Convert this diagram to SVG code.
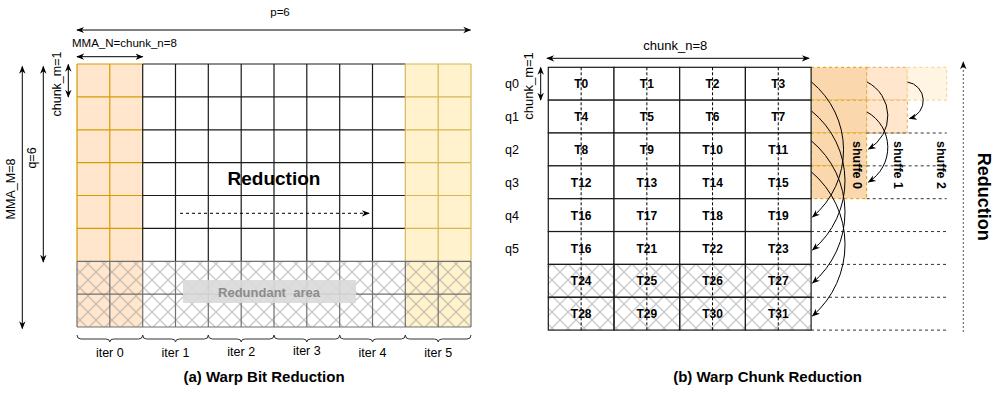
<svg xmlns="http://www.w3.org/2000/svg" width="996" height="394" viewBox="0 0 996 394">
<defs>
<style>
text{font-family:"Liberation Sans",Arial,sans-serif;fill:#000}
.lbl{font-size:12.5px}
.sm{font-size:11.5px}
.mid{text-anchor:middle}
.t{font-size:12px;font-weight:bold;text-anchor:middle}
.sh{font-size:12.5px;font-weight:bold;text-anchor:middle}
.title{font-size:15px;font-weight:bold;text-anchor:middle}
.grid{fill:none;stroke:#1a1a1a;stroke-width:1.2}
.og{fill:none;stroke:#d79b00;stroke-width:1.2}
.yg{fill:none;stroke:#d6b656;stroke-width:1.2}
.hg{fill:none;stroke:#707070;stroke-width:1.2}
.cell{fill:#fff;stroke:#1a1a1a;stroke-width:1.2}
.hcell{fill:url(#hatch);stroke:#1a1a1a;stroke-width:1.2}
.arr{fill:none;stroke:#000;stroke-width:1;marker-end:url(#ah)}
.dbl{fill:none;stroke:#000;stroke-width:1;marker-start:url(#ah);marker-end:url(#ah)}
.dash{fill:none;stroke:#000;stroke-width:1;stroke-dasharray:3 3}
.brace{fill:none;stroke:#333;stroke-width:1}
.s0{fill:#fad7ac;stroke:#d79b00;stroke-width:1;stroke-dasharray:3 3}
.s1{fill:#ffe6cc;stroke:#e3a94f;stroke-width:1;stroke-dasharray:3 3}
.s2{fill:#fff5e2;stroke:#f2cf8f;stroke-width:1;stroke-dasharray:3 3}
</style>
<marker id="ah" viewBox="0 0 10 10" refX="9" refY="5" markerWidth="8" markerHeight="8" markerUnits="userSpaceOnUse" orient="auto-start-reverse"><path d="M0,1 L10,5 L0,9 L3,5 z" fill="#000"/></marker>
<pattern id="hatch" width="16" height="16" patternUnits="userSpaceOnUse"><path d="M0,0 L16,16 M16,0 L0,16" stroke="#9a9a9a" stroke-opacity="0.55" stroke-width="1.3" fill="none"/></pattern>
</defs>
<rect width="996" height="394" fill="#fff"/>

<!-- ===== Panel (a) ===== -->
<g id="a-iter0-block">
<rect x="77" y="64" width="65.7" height="263" fill="#ffe6cc"/>
<path class="og" d="M77,64V261.3M109.8,64V261.3M77,64H142.7M77,96.9H142.7M77,129.8H142.7M77,162.6H142.7M77,195.5H142.7M77,228.4H142.7"/>
</g>
<g id="a-iter5-block">
<rect x="405.3" y="64" width="65.7" height="263" fill="#fff2cc"/>
</g>
<g id="a-middle-grid">
<path class="grid" d="M142.7,64H405.3M142.7,96.9H405.3M142.7,129.8H405.3M142.7,162.6H405.3M142.7,195.5H405.3M142.7,228.4H405.3M142.7,64V261.3M175.5,64V261.3M208.3,64V261.3M241.2,64V261.3M274,64V261.3M306.8,64V261.3M339.7,64V261.3M372.5,64V261.3"/>
</g>
<g id="a-iter5-grid">
<path class="yg" d="M405.3,64V261.3M438.2,64V261.3M471,64V261.3M405.3,64H471M405.3,96.9H471M405.3,129.8H471M405.3,162.6H471M405.3,195.5H471M405.3,228.4H471"/>
</g>
<g id="a-redundant-rows">
<rect x="77" y="261.3" width="394" height="65.7" fill="url(#hatch)"/>
<path class="hg" d="M77,261.3H471M77,294.1H471M77,327H471M77,261.3V327M109.8,261.3V327M142.7,261.3V327M175.5,261.3V327M208.3,261.3V327M241.2,261.3V327M274,261.3V327M306.8,261.3V327M339.7,261.3V327M372.5,261.3V327M405.3,261.3V327M438.2,261.3V327M471,261.3V327"/>
</g>
<g id="a-redundant-label">
<rect x="183" y="280" width="173" height="23" fill="#d9d9d9" fill-opacity="0.9"/>
<text x="269" y="296.5" class="mid" style="font-size:13px;font-weight:bold;fill:#8c8c8c;white-space:pre" xml:space="preserve">Redundant  area</text>
</g>
<g id="a-reduction-label">
<text x="274" y="185" class="mid" style="font-size:19px;font-weight:bold">Reduction</text>
</g>

<g id="a-connectors">
<path class="dbl" d="M77,30H470.5"/>
<path class="dbl" d="M77,56.7H142.7"/>
<path class="dbl" d="M22.3,66.5V328.5"/>
<path class="dbl" d="M43.3,66.5V262"/>
<path class="dbl" d="M68.3,64.5V97"/>
<path class="dash" style="marker-end:url(#ah)" d="M180,213.3H369"/>
</g>
<g id="a-dim-labels">
<text x="280" y="16" class="sm mid">p=6</text>
<text x="72" y="47" class="sm">MMA_N=chunk_n=8</text>
<text transform="translate(14.5,189) rotate(-90)" class="lbl mid">MMA_M=8</text>
<text transform="translate(36,158) rotate(-90)" class="lbl mid">q=6</text>
<text transform="translate(60.5,84) rotate(-90)" class="lbl mid">chunk_m=1</text>
</g>
<g id="a-iter-braces">
<path class="brace" d="M77,335Q77,339 81,339L105.8,339Q109.8,339 109.8,342Q109.8,339 113.8,339L138.7,339Q142.7,339 142.7,335"/>
<path class="brace" d="M142.7,335Q142.7,339 146.7,339L171.5,339Q175.5,339 175.5,342Q175.5,339 179.5,339L204.3,339Q208.3,339 208.3,335"/>
<path class="brace" d="M208.3,335Q208.3,339 212.3,339L237.2,339Q241.2,339 241.2,342Q241.2,339 245.2,339L270,339Q274,339 274,335"/>
<path class="brace" d="M274,335Q274,339 278,339L302.8,339Q306.8,339 306.8,342Q306.8,339 310.8,339L335.7,339Q339.7,339 339.7,335"/>
<path class="brace" d="M339.7,335Q339.7,339 343.7,339L368.5,339Q372.5,339 372.5,342Q372.5,339 376.5,339L401.3,339Q405.3,339 405.3,335"/>
<path class="brace" d="M405.3,335Q405.3,339 409.3,339L434.2,339Q438.2,339 438.2,342Q438.2,339 442.2,339L467,339Q471,339 471,335"/>
<text x="109.8" y="357" class="lbl mid">iter 0</text>
<text x="175.5" y="357" class="lbl mid">iter 1</text>
<text x="241.2" y="356" class="lbl mid">iter 2</text>
<text x="306.8" y="355" class="lbl mid">iter 3</text>
<text x="372.5" y="357" class="lbl mid">iter 4</text>
<text x="438.2" y="357" class="lbl mid">iter 5</text>
</g>
<text x="264" y="382" class="title">(a) Warp Bit Reduction</text>

<!-- ===== Panel (b) ===== -->
<g id="b-shuffle0-area">
<rect class="s0" x="811" y="67.3" width="55.7" height="32.85"/>
<rect class="s0" x="811" y="100.15" width="55.7" height="32.85"/>
<rect class="s0" x="811" y="133" width="55.7" height="32.85"/>
<rect class="s0" x="811" y="165.85" width="55.7" height="32.85"/>
<text transform="translate(852.5,165) rotate(90)" class="sh">shuffe 0</text>
</g>
<g id="b-shuffle1-area">
<rect class="s1" x="866.7" y="67.3" width="40.6" height="32.85"/>
<rect class="s1" x="866.7" y="100.15" width="40.6" height="32.85"/>
<text transform="translate(893.5,165) rotate(90)" class="sh">shuffe 1</text>
</g>
<g id="b-shuffle2-area">
<rect class="s2" x="907.3" y="67.3" width="39.4" height="32.85"/>
<text transform="translate(936.5,165) rotate(90)" class="sh">shuffe 2</text>
</g>
<g id="b-row-guides">
<path fill="none" stroke="#333" stroke-width="1" stroke-dasharray="3 3" d="M866.7,133H946.7M866.7,165.85H946.7M866.7,198.7H946.7M811,231.55H946.7M811,264.4H946.7M811,297.25H946.7M811,330.1H946.7"/>
</g>

<g id="b-cells">
<g id="cell-T0"><rect class="cell" x="548.3" y="67.3" width="65.7" height="32.85"/><text class="t" x="581.15" y="88.2">T0</text></g>
<g id="cell-T1"><rect class="cell" x="614" y="67.3" width="65.7" height="32.85"/><text class="t" x="646.85" y="88.2">T1</text></g>
<g id="cell-T2"><rect class="cell" x="679.7" y="67.3" width="65.7" height="32.85"/><text class="t" x="712.55" y="88.2">T2</text></g>
<g id="cell-T3"><rect class="cell" x="745.4" y="67.3" width="65.7" height="32.85"/><text class="t" x="778.25" y="88.2">T3</text></g>
<g id="cell-T4"><rect class="cell" x="548.3" y="100.15" width="65.7" height="32.85"/><text class="t" x="581.15" y="121.1">T4</text></g>
<g id="cell-T5"><rect class="cell" x="614" y="100.15" width="65.7" height="32.85"/><text class="t" x="646.85" y="121.1">T5</text></g>
<g id="cell-T6"><rect class="cell" x="679.7" y="100.15" width="65.7" height="32.85"/><text class="t" x="712.55" y="121.1">T6</text></g>
<g id="cell-T7"><rect class="cell" x="745.4" y="100.15" width="65.7" height="32.85"/><text class="t" x="778.25" y="121.1">T7</text></g>
<g id="cell-T8"><rect class="cell" x="548.3" y="133" width="65.7" height="32.85"/><text class="t" x="581.15" y="153.9">T8</text></g>
<g id="cell-T9"><rect class="cell" x="614" y="133" width="65.7" height="32.85"/><text class="t" x="646.85" y="153.9">T9</text></g>
<g id="cell-T10"><rect class="cell" x="679.7" y="133" width="65.7" height="32.85"/><text class="t" x="712.55" y="153.9">T10</text></g>
<g id="cell-T11"><rect class="cell" x="745.4" y="133" width="65.7" height="32.85"/><text class="t" x="778.25" y="153.9">T11</text></g>
<g id="cell-T12"><rect class="cell" x="548.3" y="165.85" width="65.7" height="32.85"/><text class="t" x="581.15" y="186.8">T12</text></g>
<g id="cell-T13"><rect class="cell" x="614" y="165.85" width="65.7" height="32.85"/><text class="t" x="646.85" y="186.8">T13</text></g>
<g id="cell-T14"><rect class="cell" x="679.7" y="165.85" width="65.7" height="32.85"/><text class="t" x="712.55" y="186.8">T14</text></g>
<g id="cell-T15"><rect class="cell" x="745.4" y="165.85" width="65.7" height="32.85"/><text class="t" x="778.25" y="186.8">T15</text></g>
<g id="cell-T16"><rect class="cell" x="548.3" y="198.7" width="65.7" height="32.85"/><text class="t" x="581.15" y="219.6">T16</text></g>
<g id="cell-T17"><rect class="cell" x="614" y="198.7" width="65.7" height="32.85"/><text class="t" x="646.85" y="219.6">T17</text></g>
<g id="cell-T18"><rect class="cell" x="679.7" y="198.7" width="65.7" height="32.85"/><text class="t" x="712.55" y="219.6">T18</text></g>
<g id="cell-T19"><rect class="cell" x="745.4" y="198.7" width="65.7" height="32.85"/><text class="t" x="778.25" y="219.6">T19</text></g>
<g id="cell-T20"><rect class="cell" x="548.3" y="231.55" width="65.7" height="32.85"/><text class="t" x="581.15" y="252.5">T16</text></g>
<g id="cell-T21"><rect class="cell" x="614" y="231.55" width="65.7" height="32.85"/><text class="t" x="646.85" y="252.5">T21</text></g>
<g id="cell-T22"><rect class="cell" x="679.7" y="231.55" width="65.7" height="32.85"/><text class="t" x="712.55" y="252.5">T22</text></g>
<g id="cell-T23"><rect class="cell" x="745.4" y="231.55" width="65.7" height="32.85"/><text class="t" x="778.25" y="252.5">T23</text></g>
<g id="cell-T24"><rect class="hcell" x="548.3" y="264.4" width="65.7" height="32.85"/><text class="t" x="581.15" y="285.3">T24</text></g>
<g id="cell-T25"><rect class="hcell" x="614" y="264.4" width="65.7" height="32.85"/><text class="t" x="646.85" y="285.3">T25</text></g>
<g id="cell-T26"><rect class="hcell" x="679.7" y="264.4" width="65.7" height="32.85"/><text class="t" x="712.55" y="285.3">T26</text></g>
<g id="cell-T27"><rect class="hcell" x="745.4" y="264.4" width="65.7" height="32.85"/><text class="t" x="778.25" y="285.3">T27</text></g>
<g id="cell-T28"><rect class="hcell" x="548.3" y="297.25" width="65.7" height="32.85"/><text class="t" x="581.15" y="318.2">T28</text></g>
<g id="cell-T29"><rect class="hcell" x="614" y="297.25" width="65.7" height="32.85"/><text class="t" x="646.85" y="318.2">T29</text></g>
<g id="cell-T30"><rect class="hcell" x="679.7" y="297.25" width="65.7" height="32.85"/><text class="t" x="712.55" y="318.2">T30</text></g>
<g id="cell-T31"><rect class="hcell" x="745.4" y="297.25" width="65.7" height="32.85"/><text class="t" x="778.25" y="318.2">T31</text></g>
</g>
<g id="b-lane-lines">
<path class="dash" style="stroke-dasharray:3 2" d="M581.15,67.3V330.1M646.85,67.3V330.1M712.55,67.3V330.1M778.25,67.3V330.1"/>
</g>
<g id="b-row-labels">
<text x="505" y="88.3" class="lbl">q0</text>
<text x="505" y="121.2" class="lbl">q1</text>
<text x="505" y="154" class="lbl">q2</text>
<text x="505" y="186.9" class="lbl">q3</text>
<text x="505" y="219.7" class="lbl">q4</text>
<text x="505" y="252.6" class="lbl">q5</text>
</g>
<g id="b-dim-labels">
<text x="675.3" y="50" class="mid" style="font-size:13px">chunk_n=8</text>
<text transform="translate(533,86) rotate(-90)" class="mid" style="font-size:13px">chunk_m=1</text>
<text transform="translate(977.5,196.7) rotate(90)" class="mid" style="font-size:18px;font-weight:bold">Reduction</text>
</g>
<g id="b-connectors">
<path class="dbl" d="M547,58.3H809"/>
<path class="dbl" d="M540.7,67.5V100"/>
<path fill="none" stroke="#555" stroke-width="1" stroke-dasharray="2 2" style="marker-end:url(#ah)" d="M963.3,332V62"/>
<path class="arr" d="M811.5,82A88,88 0 0 1 812.5,217"/>
<path class="arr" d="M811.5,111A89.7,89.7 0 0 1 812.5,250"/>
<path class="arr" d="M811.5,141A92.9,92.9 0 0 1 812.5,283"/>
<path class="arr" d="M811.5,172A95,95 0 0 1 812.5,316"/>
<path class="arr" d="M867,82A38,38 0 0 1 868.5,149"/>
<path class="arr" d="M867,112A40.6,40.6 0 0 1 868.5,182"/>
<path class="arr" d="M907.5,82A18.7,18.7 0 0 1 909.5,118.5"/>
</g>
<text x="767.5" y="382" class="title">(b) Warp Chunk Reduction</text>
</svg>
